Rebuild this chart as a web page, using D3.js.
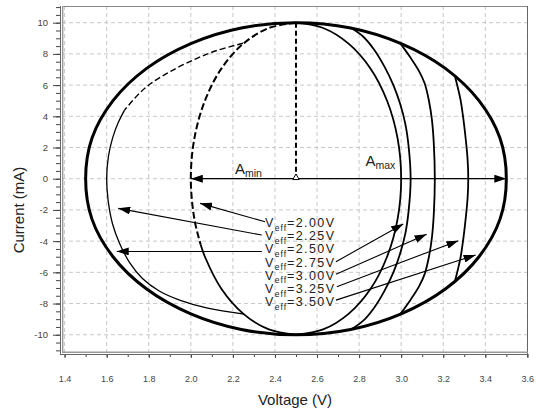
<!DOCTYPE html>
<html>
<head>
<meta charset="utf-8">
<script src="https://cdn.jsdelivr.net/npm/d3@7"></script>
<style>
  body { margin: 0; background: #fff; }
  svg { display: block; font-family: Arial, "Liberation Sans", sans-serif; }
</style>
</head>
<body>
<div id="wrapper"></div>
<script>
// Tick labels
const xTicks = [1.4, 1.6, 1.8, 2.0, 2.2, 2.4, 2.6, 2.8, 3.0, 3.2, 3.4, 3.6]
const yTicks = [-10, -8, -6, -4, -2, 0, 2, 4, 6, 8, 10]

// Outer ellipse (A_max), [voltage, current]
const outerLoop = [
  [3.50, 0], [3.47, 2.59], [3.37, 5.00], [3.21, 7.07], [3.00, 8.66], [2.76, 9.66],
  [2.50, 10], [2.24, 9.66], [2.00, 8.66], [1.79, 7.07], [1.63, 5.00], [1.53, 2.59],
  [1.50, 0], [1.53, -2.59], [1.63, -5.00], [1.79, -7.07], [2.00, -8.66], [2.24, -9.66],
  [2.50, -10], [2.76, -9.66], [3.00, -8.66], [3.21, -7.07], [3.37, -5.00], [3.47, -2.59],
]

// Inner ellipse (A_min)
const innerLeftDashed = [
  [2.50, 10], [2.371, 9.66], [2.25, 8.66], [2.146, 7.07], [2.067, 5.0],
  [2.017, 2.59], [2.00, 0], [2.017, -2.59], [2.047, -4.23],
]
const innerLeftSolid = [
  [2.047, -4.23], [2.067, -5.0], [2.146, -7.07], [2.25, -8.66], [2.371, -9.66], [2.50, -10],
]
const innerRight = [
  [2.50, 10], [2.629, 9.66], [2.75, 8.66], [2.854, 7.07], [2.933, 5.0], [2.983, 2.59],
  [3.00, 0], [2.983, -2.59], [2.933, -5.0], [2.854, -7.07], [2.75, -8.66], [2.629, -9.66], [2.50, -10],
]

// Left thin curve
const thinDashed = [
  [2.248, 8.68], [2.12, 8.2], [2.01, 7.6], [1.90, 6.85], [1.81, 6.1], [1.75, 5.4], [1.685, 4.4],
]
const thinSolid = [
  [1.685, 4.4], [1.655, 3.6], [1.628, 2.6], [1.608, 1.4], [1.600, 0], [1.607, -1.4],
  [1.628, -2.9], [1.66, -4.1], [1.71, -5.4], [1.77, -6.4], [1.85, -7.2], [1.95, -7.8],
  [2.08, -8.3], [2.254, -8.68],
]

// Right curves
const rightCurve1 = [
  [2.765, 9.64], [2.82, 9.1], [2.87, 8.3], [2.92, 7.2], [2.963, 6.0], [2.995, 4.8], [3.02, 3.5],
  [3.036, 2.0], [3.045, 0], [3.036, -2.0], [3.02, -3.5], [2.995, -4.8], [2.963, -6.0],
  [2.92, -7.2], [2.87, -8.3], [2.82, -9.1], [2.765, -9.64],
]
const rightCurve2 = [
  [2.995, 8.69], [3.045, 7.75], [3.085, 6.9], [3.112, 6.1], [3.132, 5.0], [3.146, 3.8],
  [3.155, 2.3], [3.16, 0], [3.155, -2.3], [3.146, -3.8], [3.132, -5.0], [3.112, -6.1],
  [3.085, -6.9], [3.045, -7.75], [2.995, -8.69],
]
const rightCurve3 = [
  [3.256, 6.55], [3.27, 5.8], [3.283, 5.0], [3.296, 3.8], [3.308, 2.4], [3.316, 1.2], [3.319, 0],
  [3.316, -1.2], [3.308, -2.4], [3.296, -3.8], [3.283, -5.0], [3.27, -5.8], [3.256, -6.55],
]

// Legend labels and their leader arrows [x0, y0, x1 (tip), y1 (tip)]
const veffLabels = ["2.00", "2.25", "2.50", "2.75", "3.00", "3.25", "3.50"]
const leaders = [
  [2.353, -2.76, 2.044, -1.58],
  [2.337, -3.61, 1.655, -1.90],
  [2.338, -4.66, 1.648, -4.66],
  [2.690, -5.32, 3.010, -2.90],
  [2.690, -6.13, 3.121, -3.56],
  [2.694, -6.92, 3.272, -3.97],
  [2.690, -7.78, 3.354, -4.89],
]

const drawChart = () => {
  let dimensions = {
    width: 543,
    height: 412,
    margin: {
      top: 6,
      right: 15,
      bottom: 59,
      left: 62,
    },
  }
  dimensions.boundedWidth = dimensions.width
    - dimensions.margin.left
    - dimensions.margin.right
  dimensions.boundedHeight = dimensions.height
    - dimensions.margin.top
    - dimensions.margin.bottom

  const wrapper = d3.select("#wrapper")
    .append("svg")
      .attr("width", dimensions.width)
      .attr("height", dimensions.height)

  wrapper.append("defs").append("marker")
      .attr("id", "arrow")
      .attr("viewBox", "0 0 12 8")
      .attr("refX", 12)
      .attr("refY", 4)
      .attr("markerWidth", 12)
      .attr("markerHeight", 8)
      .attr("markerUnits", "userSpaceOnUse")
      .attr("orient", "auto")
    .append("path")
      .attr("d", "M0,0L12,4L0,8Z")
      .attr("fill", "#000")

  const bounds = wrapper.append("g")
      .attr("transform", `translate(${dimensions.margin.left},${dimensions.margin.top})`)

  //Create Scales
  const xScale = d3.scaleLinear()
      .domain([1.3876, 3.603])
      .range([0, dimensions.boundedWidth])

  const yScale = d3.scaleLinear()
      .domain([-11.17, 11.07])
      .range([dimensions.boundedHeight, 0])

  //Grid
  bounds.append("g").selectAll("line")
      .data(xTicks)
      .join("line")
      .attr("x1", d => xScale(d)).attr("x2", d => xScale(d))
      .attr("y1", 0).attr("y2", dimensions.boundedHeight)
      .attr("stroke", "#c8c8c8")
      .attr("stroke-dasharray", "4,3")

  bounds.append("g").selectAll("line")
      .data(yTicks)
      .join("line")
      .attr("y1", d => yScale(d)).attr("y2", d => yScale(d))
      .attr("x1", 0).attr("x2", dimensions.boundedWidth)
      .attr("stroke", "#c8c8c8")
      .attr("stroke-dasharray", "4,3")

  //Frame
  bounds.append("line")
      .attr("x1", 0).attr("x2", dimensions.boundedWidth)
      .attr("y1", 0.5).attr("y2", 0.5)
      .attr("stroke", "#888")
  bounds.append("line")
      .attr("x1", dimensions.boundedWidth - 0.5).attr("x2", dimensions.boundedWidth - 0.5)
      .attr("y1", 0).attr("y2", dimensions.boundedHeight + 4)
      .attr("stroke", "#666")

  //Axes
  const xAxis = bounds.append("g")
      .attr("transform", `translate(0,${dimensions.boundedHeight + 1})`)
      .call(d3.axisBottom(xScale).tickValues(xTicks).tickSize(4).tickPadding(18).tickFormat(d3.format(".1f")))
  xAxis.append("g")
      .call(d3.axisBottom(xScale).tickValues(d3.range(14, 37).map(d => d / 10)).tickSize(3).tickFormat(""))
  xAxis.selectAll(".domain").remove()
  xAxis.selectAll("line").attr("stroke", "#444")
  xAxis.selectAll("text")
      .attr("fill", "#444")
      .style("font-size", "9px")

  const yAxis = bounds.append("g")
      .attr("transform", "translate(-1,0)")
      .call(d3.axisLeft(yScale).tickValues(yTicks).tickSize(8).tickPadding(5).tickFormat(d => d))
  yAxis.append("g")
      .call(d3.axisLeft(yScale).tickValues(d3.range(-22, 23).map(d => d / 2)).tickSize(5).tickFormat(""))
  yAxis.selectAll(".domain").remove()
  yAxis.selectAll("line").attr("stroke", "#444")
  yAxis.selectAll("text")
      .attr("fill", "#444")
      .style("font-size", "9.5px")

  // double axis lines
  bounds.append("line")
      .attr("x1", -1.5).attr("x2", -1.5)
      .attr("y1", 0).attr("y2", dimensions.boundedHeight + 2)
      .attr("stroke", "#666")
  bounds.append("line")
      .attr("x1", 0.7).attr("x2", 0.7)
      .attr("y1", 0).attr("y2", dimensions.boundedHeight)
      .attr("stroke", "#999").attr("stroke-width", 1.4)
  bounds.append("line")
      .attr("x1", 0).attr("x2", dimensions.boundedWidth)
      .attr("y1", dimensions.boundedHeight - 0.7).attr("y2", dimensions.boundedHeight - 0.7)
      .attr("stroke", "#999").attr("stroke-width", 1.4)
  bounds.append("line")
      .attr("x1", -1.5).attr("x2", dimensions.boundedWidth)
      .attr("y1", dimensions.boundedHeight + 1.5).attr("y2", dimensions.boundedHeight + 1.5)
      .attr("stroke", "#666")

  //Draw curves
  const lineGen = d3.line()
      .x(d => xScale(d[0]))
      .y(d => yScale(d[1]))
      .curve(d3.curveCatmullRom.alpha(0.5))

  const curves = [
    { pts: innerLeftDashed, w: 2, dash: "7,3" },
    { pts: innerLeftSolid, w: 1.8 },
    { pts: innerRight, w: 1.8 },
    { pts: thinDashed, w: 1.4, dash: "6,3" },
    { pts: thinSolid, w: 1.3 },
    { pts: rightCurve1, w: 1.8 },
    { pts: rightCurve2, w: 1.8 },
    { pts: rightCurve3, w: 1.8 },
  ]
  bounds.append("g").selectAll("path")
      .data(curves)
      .join("path")
      .attr("d", d => lineGen(d.pts))
      .attr("fill", "none")
      .attr("stroke", "#000")
      .attr("stroke-width", d => d.w)
      .attr("stroke-dasharray", d => d.dash || null)

  bounds.append("path")
      .attr("d", lineGen.curve(d3.curveCatmullRomClosed.alpha(0.5))(outerLoop))
      .attr("fill", "none")
      .attr("stroke", "#000")
      .attr("stroke-width", 3)

  // vertical dashed line at centre
  bounds.append("line")
      .attr("x1", xScale(2.5)).attr("x2", xScale(2.5))
      .attr("y1", yScale(10)).attr("y2", yScale(0))
      .attr("stroke", "#000")
      .attr("stroke-width", 2)
      .attr("stroke-dasharray", "5,3")

  // A_min / A_max arrows
  ;[2.0, 3.5].forEach(v => {
    bounds.append("line")
        .attr("x1", xScale(2.5)).attr("x2", xScale(v))
        .attr("y1", yScale(0)).attr("y2", yScale(0))
        .attr("stroke", "#000")
        .attr("stroke-width", 1.2)
        .attr("marker-end", "url(#arrow)")
  })
  bounds.append("path")
      .attr("d", d3.symbol(d3.symbolTriangle).size(18)())
      .attr("transform", `translate(${xScale(2.5)},${yScale(0) - 1})`)
      .attr("fill", "#fff")
      .attr("stroke", "#000")

  const aLabel = (x, y, sub) => {
    const t = bounds.append("text")
        .attr("x", x).attr("y", y)
        .attr("fill", "#222")
        .style("font-size", "15px")
    t.append("tspan").text("A")
    t.append("tspan").attr("dy", 3).style("font-size", "10.5px").text(sub)
  }
  aLabel(xScale(2.21), yScale(0) - 5, "min")
  aLabel(xScale(2.83), yScale(0) - 13, "max")

  //Legend
  bounds.append("g").selectAll("line")
      .data(leaders)
      .join("line")
      .attr("x1", d => xScale(d[0])).attr("y1", d => yScale(d[1]))
      .attr("x2", d => xScale(d[2])).attr("y2", d => yScale(d[3]))
      .attr("stroke", "#000")
      .attr("stroke-width", 1.1)
      .attr("marker-end", "url(#arrow)")

  const legend = bounds.append("g")
      .attr("fill", "#222")
      .style("font-size", "12.5px")
      .style("letter-spacing", "1.4px")
  veffLabels.forEach((v, i) => {
    const t = legend.append("text")
        .attr("x", 203)
        .attr("y", 221 + i * 13.2)
    t.append("tspan").text("V")
    t.append("tspan").attr("dy", 3.5).style("font-size", "8.5px").style("letter-spacing", "1px").text("eff")
    t.append("tspan").attr("dy", -3.5).text(`=${v}V`)
  })

  //Axis labels
  bounds.append("text")
      .attr("x", dimensions.boundedWidth / 2)
      .attr("y", 399)
      .attr("fill", "#222")
      .style("font-size", "15px")
      .style("text-anchor", "middle")
      .text("Voltage (V)")

  bounds.append("text")
      .attr("transform", `translate(-38,204) rotate(-90)`)
      .attr("fill", "#222")
      .style("font-size", "15px")
      .style("text-anchor", "middle")
      .text("Current (mA)")
}
drawChart()
</script>
</body>
</html>
